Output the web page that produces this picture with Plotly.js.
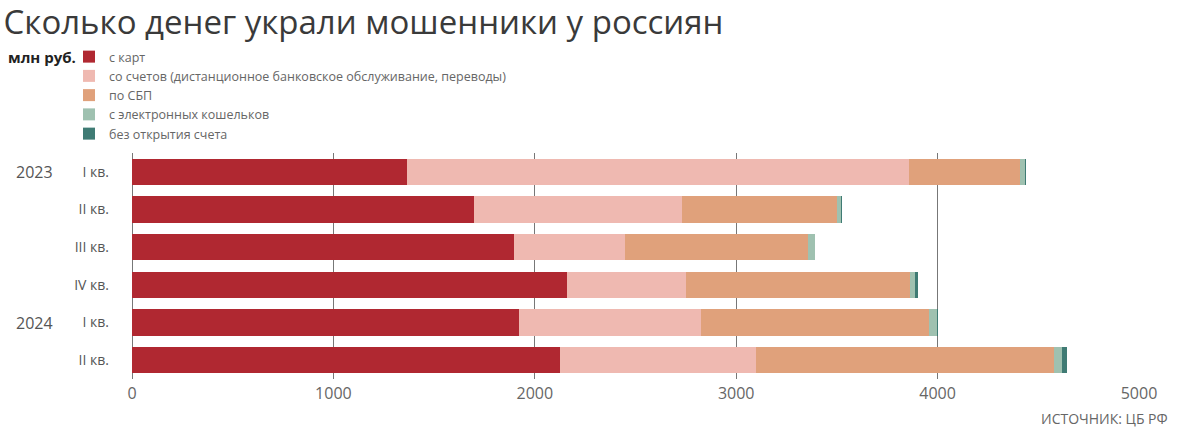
<!DOCTYPE html>
<html>
<head>
<meta charset="utf-8">
<script src="https://cdn.plot.ly/plotly-3.0.1.min.js"></script>
<style>
  html, body { margin: 0; padding: 0; background: #fff; }
  #chart { width: 1183px; height: 437px; }
</style>
</head>
<body>
<div id="chart"></div>
<script>
// quarters, top to bottom
const quarters = ['I кв.', 'II кв.', 'III кв.', 'IV кв.', 'I кв.', 'II кв.'];
const years = ['2023', '', '', '', '2024', ''];

// млн руб.
const cards = [1365, 1700, 1897, 2158, 1920, 2124];
const accounts = [2493, 1032, 549, 593, 904, 973];
const sbp = [552, 770, 912, 1112, 1132, 1483];
const wallets = [25, 20, 35, 26, 39, 36];
const noAccount = [5, 3, 0, 12, 7, 25];

const seriesNames = [
  'с карт',
  'со счетов (дистанционное банковское обслуживание, переводы)',
  'по СБП',
  'с электронных кошельков',
  'без открытия счета'
];
const seriesValues = [cards, accounts, sbp, wallets, noAccount];
const colors = ['#b02831', '#efb9b1', '#e0a17b', '#9fc1b0', '#3f7b74'];

const pos = quarters.map((q, i) => i);
const font = 'Open Sans, sans-serif';

const traces = seriesValues.map((vals, i) => ({
  type: 'bar',
  orientation: 'h',
  name: seriesNames[i],
  x: vals,
  y: pos,
  marker: { color: colors[i], line: { width: 0 } },
  hoverinfo: 'x+name'
}));

const annotations = [];
years.forEach((yr, i) => {
  if (!yr) return;
  annotations.push({
    text: yr, xref: 'paper', yref: 'y', x: -0.097, y: i,
    showarrow: false, xanchor: 'center', yanchor: 'middle',
    font: { family: font, size: 16, color: '#555' }
  });
});
annotations.push({
  text: 'млн руб.', xref: 'paper', yref: 'paper',
  x: -0.125, y: 1.425, xanchor: 'left', yanchor: 'middle', showarrow: false,
  font: { family: font, size: 15, color: '#222', weight: 700 }
});
annotations.push({
  text: 'ИСТОЧНИК: ЦБ РФ', xref: 'paper', yref: 'paper',
  x: 1.031, y: -0.173, xanchor: 'right', yanchor: 'middle', showarrow: false,
  font: { family: font, size: 14, color: '#666' }
});

const layout = {
  width: 1183,
  height: 437,
  margin: { l: 132, r: 44, t: 153, b: 58, autoexpand: false },
  paper_bgcolor: '#fff',
  plot_bgcolor: '#fff',
  font: { family: font, color: '#555' },
  title: {
    text: 'Сколько денег украли мошенники у россиян',
    x: 0.003, xanchor: 'left', y: 0.976, yanchor: 'top',
    font: { family: font, size: 33, color: '#3a3a3a' }
  },
  barmode: 'stack',
  bargap: 0.3,
  showlegend: true,
  legend: {
    orientation: 'v',
    traceorder: 'normal',
    xref: 'container', yref: 'container',
    x: 69 / 1183, y: 1 - 42 / 437, xanchor: 'left', yanchor: 'top',
    font: { family: font, size: 12.5, color: '#666' },
    tracegroupgap: 0,
    bgcolor: 'rgba(0,0,0,0)'
  },
  xaxis: {
    range: [0, 5000],
    tickvals: [0, 1000, 2000, 3000, 4000, 5000],
    showgrid: true,
    gridcolor: '#777',
    gridwidth: 1,
    zeroline: true,
    zerolinecolor: '#777',
    zerolinewidth: 1,
    showline: false,
    ticks: '',
    ticklabelstandoff: 3,
    tickfont: { family: font, size: 16, color: '#666' },
    fixedrange: true
  },
  yaxis: {
    range: [5.5, -0.5],
    tickvals: pos,
    ticktext: quarters,
    showgrid: false,
    zeroline: false,
    ticks: '',
    ticklabelstandoff: 22,
    tickfont: { family: font, size: 14, color: '#555' },
    fixedrange: true
  },
  annotations: annotations
};

Plotly.newPlot('chart', traces, layout, { displayModeBar: false, staticPlot: true });
</script>
</body>
</html>
